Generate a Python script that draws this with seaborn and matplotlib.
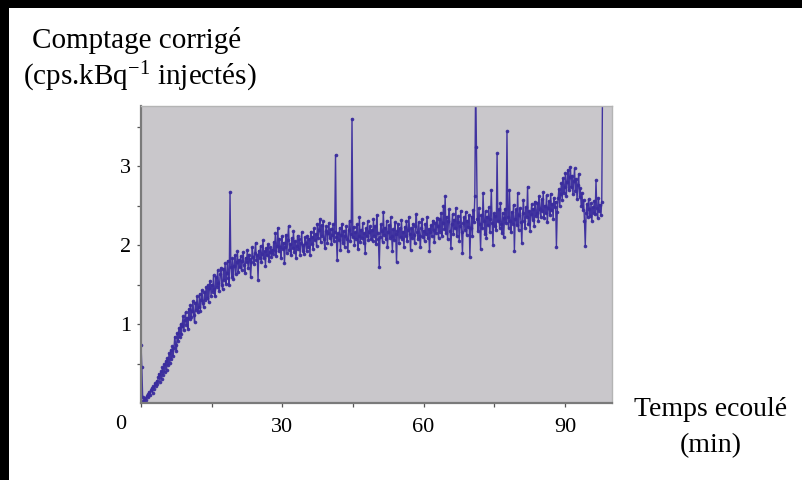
import numpy as np
import pandas as pd
import matplotlib
matplotlib.use("Agg")
import matplotlib.pyplot as plt
from matplotlib.patches import Rectangle
import seaborn as sns

# Acquisition interval of the counting series (minutes)
SAMPLE_STEP_MIN = 0.175

# Corrected count rate (cps per injected kBq), one value per acquisition,
# each row covers 7 minutes
counts = [
    0.74, 0.45, 0.08, 0.03, 0.01, 0.06, 0.04, 0.09, 0.11, 0.07,
    0.14, 0.10, 0.16, 0.19, 0.13, 0.21, 0.18, 0.25, 0.22, 0.28,
    0.24, 0.33, 0.37, 0.27, 0.40, 0.31, 0.45, 0.36, 0.49, 0.39,
    0.53, 0.42, 0.57, 0.48, 0.63, 0.51, 0.67, 0.56, 0.72, 0.60,

    0.70, 0.84, 0.74, 0.66, 0.88, 0.79, 0.95, 0.83, 1.00, 0.87,
    0.98, 1.10, 0.92, 1.05, 1.15, 0.99, 1.08, 0.94, 1.19, 1.06,
    1.24, 1.09, 1.16, 1.29, 1.12, 1.02, 1.27, 1.18, 1.35, 1.15,
    1.22, 1.38, 1.17, 1.30, 1.43, 1.26, 1.21, 1.40, 1.31, 1.47,

    1.33, 1.49, 1.28, 1.45, 1.55, 1.36, 1.50, 1.41, 1.62, 1.44,
    1.35, 1.59, 1.47, 1.68, 1.52, 1.42, 1.63, 1.71, 1.50, 1.44,
    1.70, 1.56, 1.77, 1.51, 1.64, 1.80, 1.58, 1.49, 2.67, 1.72,
    1.60, 1.83, 1.57, 1.74, 1.87, 1.63, 1.78, 1.92, 1.66, 1.81,

    1.72, 1.86, 1.68, 1.80, 1.91, 1.75, 1.65, 1.84, 1.78, 1.94,
    1.71, 1.88, 1.82, 1.59, 1.79, 1.97, 1.85, 1.76, 1.90, 2.03,
    1.81, 1.87, 1.56, 1.93, 1.84, 1.99, 1.78, 1.89, 2.06, 1.83,
    1.92, 1.74, 1.96, 1.87, 2.01, 1.80, 1.91, 1.97, 1.85, 1.94,

    1.89, 2.04, 1.93, 2.15, 1.86, 1.99, 2.22, 1.92, 2.08, 1.97,
    1.84, 2.11, 1.95, 2.03, 1.77, 1.98, 2.13, 1.90, 2.06, 2.24,
    1.94, 2.01, 1.87, 2.09, 1.96, 2.18, 1.91, 2.05, 1.83, 1.99,
    2.12, 1.95, 2.07, 1.88, 2.02, 2.16, 1.93, 2.00, 1.89, 2.10,

    2.03, 1.92, 2.12, 1.98, 2.08, 1.87, 2.17, 2.01, 2.10, 1.95,
    2.21, 2.06, 2.14, 1.99, 2.27, 2.09, 2.19, 2.33, 2.04, 2.25,
    2.12, 2.30, 2.07, 1.96, 2.18, 2.24, 2.02, 2.15, 2.28, 2.09,
    2.20, 2.01, 2.13, 2.26, 2.05, 2.17, 3.14, 2.10, 1.81, 2.15,

    2.06, 2.22, 1.94, 2.13, 2.27, 2.03, 2.18, 1.98, 2.11, 2.24,
    2.08, 1.92, 2.19, 2.31, 2.05, 2.14, 3.60, 2.10, 2.23, 2.00,
    2.16, 2.08, 2.26, 1.95, 2.12, 2.35, 2.04, 2.19, 2.09, 2.28,
    2.02, 2.15, 1.90, 2.21, 2.11, 2.30, 2.06, 2.17, 2.24, 2.07,

    2.19, 2.05, 2.33, 2.12, 2.24, 2.01, 2.38, 2.15, 2.08, 1.72,
    2.10, 2.26, 2.18, 2.04, 2.42, 2.13, 2.22, 2.07, 2.31, 1.98,
    2.16, 2.25, 2.09, 2.35, 2.12, 1.93, 2.20, 2.06, 2.29, 2.14,
    1.78, 2.18, 2.27, 2.03, 2.21, 2.10, 2.32, 2.08, 2.17, 1.97,

    2.23, 2.11, 2.30, 2.05, 2.19, 2.36, 2.14, 1.94, 2.21, 2.09,
    2.27, 2.13, 2.02, 2.24, 2.39, 2.16, 2.08, 2.29, 2.12, 1.98,
    2.22, 2.33, 2.10, 2.18, 2.05, 2.27, 2.14, 2.36, 2.09, 2.20,
    1.92, 2.16, 2.25, 2.11, 2.31, 2.19, 2.04, 2.28, 2.15, 2.34,

    2.24, 2.09, 2.33, 2.17, 2.41, 2.12, 2.28, 2.50, 2.20, 2.62,
    2.15, 2.36, 2.07, 2.30, 2.45, 2.18, 1.96, 2.26, 2.39, 2.14,
    2.32, 2.21, 2.47, 2.11, 2.29, 2.37, 2.05, 2.24, 2.43, 2.16,
    1.90, 2.28, 2.35, 2.19, 2.42, 2.13, 2.31, 2.23, 2.38, 1.85,

    2.22, 2.36, 2.12, 2.44, 2.29, 2.62, 4.10, 3.24, 2.33, 2.18,
    2.47, 2.26, 1.95, 2.38, 2.21, 2.66, 2.31, 2.14, 2.43, 2.09,
    2.36, 2.25, 2.48, 2.17, 2.33, 2.70, 2.28, 2.00, 2.40, 2.24,
    2.37, 2.19, 3.16, 2.30, 2.45, 2.22, 2.53, 2.27, 2.15, 2.41,

    2.10, 2.34, 2.46, 2.28, 3.44, 2.35, 2.21, 2.70, 2.30, 2.16,
    2.42, 2.27, 2.51, 1.93, 2.33, 2.45, 2.25, 2.66, 2.19, 2.38,
    2.47, 2.29, 2.02, 2.40, 2.57, 2.31, 2.22, 2.48, 2.36, 2.74,
    2.26, 2.43, 2.18, 2.39, 2.52, 2.32, 2.46, 2.24, 2.55, 2.37,

    2.41, 2.53, 2.30, 2.62, 2.45, 2.36, 2.58, 2.43, 2.67, 2.34,
    2.50, 2.40, 2.63, 2.29, 2.47, 2.56, 2.38, 2.65, 2.44, 2.52,
    2.33, 2.60, 2.48, 2.55, 1.98, 2.42, 2.59, 2.71, 2.50, 2.64,
    2.78, 2.57, 2.85, 2.66, 2.74, 2.91, 2.62, 2.80, 2.95, 2.70,

    2.86, 2.99, 2.73, 2.88, 2.64, 2.81, 2.97, 2.69, 2.84, 2.58,
    2.76, 2.90, 2.61, 2.72, 2.50, 2.66, 2.44, 2.57, 2.31, 1.99,
    2.40, 2.52, 2.35, 2.58, 2.45, 2.37, 2.53, 2.30, 2.48, 2.41,
    2.56, 2.39, 2.82, 2.47, 2.34, 2.60, 2.43, 2.51, 2.38, 2.55,
    4.10,
]
time_min = np.arange(len(counts)) * SAMPLE_STEP_MIN

x_ticks = [30, 60, 90]
x_tick_labels = ["30", "60", "90"]
x_minor_ticks = [0, 15, 45, 75]
y_ticks = [1, 2, 3]
y_tick_labels = ["1", "2", "3"]
y_minor_ticks = [0.5, 1.5, 2.5, 3.5]

x_label_lines = ["Temps ecoulé", "(min)"]
y_title_lines = ["Comptage corrigé", r"(cps.kBq$^{-1}$ injectés)"]

df = pd.DataFrame({"temps": time_min, "comptage": counts})

sns.set_theme(style="white")
plt.rcParams["font.family"] = ["Liberation Serif", "DejaVu Serif"]
plt.rcParams["text.color"] = "black"
plt.rcParams["mathtext.fontset"] = "custom"
plt.rcParams["mathtext.rm"] = "Liberation Serif"
plt.rcParams["mathtext.it"] = "Liberation Serif:italic"
plt.rcParams["mathtext.bf"] = "Liberation Serif:bold"

W, H = 803, 480
fig = plt.figure(figsize=(W / 100, H / 100), dpi=100, facecolor="white")

# plot frame in pixel units
left, right, bottom, top = 141, 612, 403, 106
ax = fig.add_axes([left / W, 1 - bottom / H, (right - left) / W, (bottom - top) / H])
ax.set_facecolor("#c9c7cb")

sns.lineplot(data=df, x="temps", y="comptage", ax=ax, estimator=None, sort=False,
             color="#3a2c9e", linewidth=1.0, marker="o", markersize=2.6,
             markeredgewidth=0, alpha=0.95)

ax.set_xlim(0, 100)
ax.set_ylim(0, 3.76)
ax.set_xticks(x_ticks)
ax.set_xticklabels(x_tick_labels)
ax.set_xticks(x_minor_ticks, minor=True)
ax.set_yticks(y_ticks)
ax.set_yticklabels(y_tick_labels)
ax.set_yticks(y_minor_ticks, minor=True)
ax.set_xlabel("")
ax.set_ylabel("")

for side in ["left", "bottom"]:
    ax.spines[side].set_color("#7a7a7a")
    ax.spines[side].set_linewidth(1.6)
for side in ["top", "right"]:
    ax.spines[side].set_color("#b4b4b4")
    ax.spines[side].set_linewidth(1.0)

ax.tick_params(axis="both", which="both", direction="out", color="#555555",
               length=3, width=0.9, labelsize=16, labelcolor="black")
ax.tick_params(axis="x", which="both", bottom=True, pad=8)
ax.tick_params(axis="y", which="both", left=True, pad=4)

# shared origin label
ax.annotate("0", xy=(0, 0), xycoords="data", xytext=(-20, -12),
            textcoords="offset pixels", ha="center", va="top", fontsize=16,
            color="black")

# axis titles
fig.text(32 / W, 1 - 41 / H, y_title_lines[0], ha="left", va="center", fontsize=21)
fig.text(23 / W, 1 - 77 / H, y_title_lines[1], ha="left", va="center", fontsize=21)
fig.text(711 / W, 1 - 410 / H, x_label_lines[0], ha="center", va="center", fontsize=20)
fig.text(711 / W, 1 - 446 / H, x_label_lines[1], ha="center", va="center", fontsize=20)

# dark frame along the top and left image edges
fig.patches.append(Rectangle((0, 1 - 8 / H), 1, 8 / H, transform=fig.transFigure,
                             facecolor="black", edgecolor="none", zorder=10))
fig.patches.append(Rectangle((0, 0), 9 / W, 1, transform=fig.transFigure,
                             facecolor="black", edgecolor="none", zorder=10))

fig.savefig("out.png", dpi=100, facecolor="white")
